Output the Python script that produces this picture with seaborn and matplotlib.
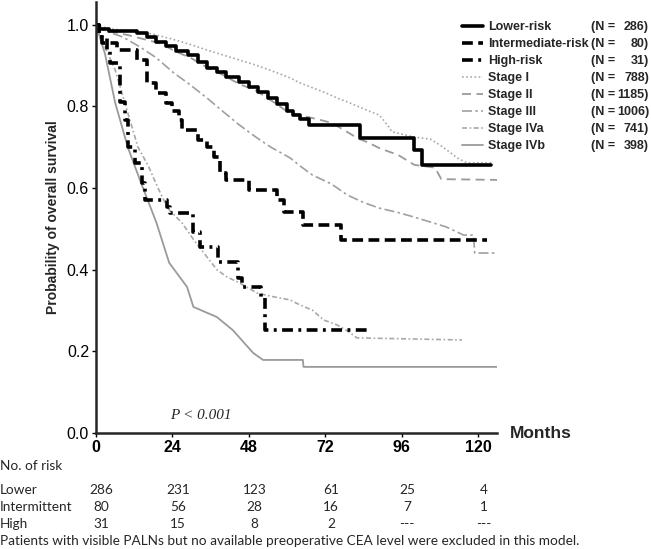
import numpy as np
import pandas as pd
import matplotlib.pyplot as plt
import seaborn as sns

# ---- data (months, survival) ----
lower_t = [0, 1, 4, 13, 16, 19, 22, 25, 29, 32, 35, 38, 41, 45, 48, 51, 54, 57, 60, 62, 64, 67, 83, 100, 102.5, 124]
lower_s = [1.0, 0.99, 0.985, 0.98, 0.97, 0.958, 0.948, 0.937, 0.926, 0.91, 0.895, 0.885, 0.872, 0.86, 0.848,
           0.835, 0.82, 0.805, 0.79, 0.778, 0.77, 0.755, 0.723, 0.694, 0.657, 0.657]

inter_t = [0, 1, 2, 6.6, 13, 16, 19, 22, 24, 26, 27, 32, 35, 37, 39, 41, 48, 57, 59, 65, 77, 123]
inter_s = [1.0, 0.975, 0.956, 0.939, 0.914, 0.858, 0.833, 0.809, 0.79, 0.767, 0.743, 0.718, 0.7, 0.676,
           0.637, 0.62, 0.596, 0.571, 0.542, 0.51, 0.473, 0.473]

high_t = [0, 1, 3.5, 4.5, 7.5, 9, 10, 12.3, 14.5, 15.4, 22.3, 23.3, 30.5, 32.7, 38.4, 44.7, 46, 52, 53, 85]
high_s = [1.0, 0.97, 0.939, 0.907, 0.81, 0.767, 0.70, 0.662, 0.613, 0.571, 0.554, 0.539, 0.493, 0.456,
          0.419, 0.38, 0.358, 0.333, 0.252, 0.252]

st1_t = [0, 2, 5, 10, 15, 19, 24, 30, 35, 40, 45, 50, 55, 61, 64, 68, 72, 76, 79, 83, 86, 89, 90, 92, 93,
         100, 105, 108, 111, 113.5, 116.5, 125]
st1_s = [1.0, 0.995, 0.99, 0.985, 0.982, 0.975, 0.965, 0.951, 0.938, 0.926, 0.914, 0.902, 0.888, 0.87, 0.858,
         0.846, 0.834, 0.82, 0.811, 0.798, 0.788, 0.779, 0.77, 0.75, 0.738, 0.725, 0.72, 0.706, 0.689, 0.674,
         0.662, 0.662]

st2_t = [0, 2, 5, 10, 15, 20, 25, 30, 35, 40, 45, 50, 55, 60, 65, 70, 74, 78, 82, 86, 89, 95, 100, 106.5,
         108.5, 127]
st2_s = [1.0, 0.99, 0.983, 0.975, 0.965, 0.955, 0.935, 0.918, 0.895, 0.877, 0.855, 0.84, 0.815, 0.788, 0.777,
         0.768, 0.76, 0.742, 0.723, 0.71, 0.698, 0.681, 0.657, 0.65, 0.622, 0.62]

st3_t = [0, 3, 8.5, 14, 19, 24, 29.6, 35, 40, 45, 50.6, 55, 61, 64, 68, 74, 79, 84, 89, 95, 100, 105, 110,
         115.5, 118.6, 119, 127]
st3_s = [1.0, 0.985, 0.97, 0.945, 0.919, 0.885, 0.853, 0.82, 0.787, 0.755, 0.723, 0.7, 0.674, 0.655, 0.632,
         0.61, 0.583, 0.565, 0.551, 0.54, 0.529, 0.517, 0.505, 0.485, 0.485, 0.441, 0.441]

st4a_t = [0, 2, 6, 10, 13.2, 16.4, 19.5, 22.6, 27, 31, 35, 38, 41, 45, 50.6, 55, 61, 64, 68, 71.5, 75.7, 79,
          82, 115]
st4a_s = [1.0, 0.96, 0.89, 0.784, 0.70, 0.655, 0.6, 0.55, 0.515, 0.47, 0.43, 0.40, 0.383, 0.368, 0.343,
          0.335, 0.326, 0.314, 0.301, 0.277, 0.265, 0.25, 0.233, 0.228]

st4b_t = [0, 2.8, 6, 10, 13.8, 19, 23, 28.6, 30.6, 38, 43, 49.4, 52.5, 65, 65.2, 126]
st4b_s = [1.0, 0.93, 0.81, 0.70, 0.62, 0.515, 0.417, 0.358, 0.309, 0.284, 0.252, 0.196, 0.179, 0.179,
          0.162, 0.162]

groups = ["Lower-risk", "Intermediate-risk", "High-risk", "Stage I", "Stage II", "Stage III", "Stage IVa", "Stage IVb"]
group_n = [286, 80, 31, 788, 1185, 1006, 741, 398]

risk_months = [0, 24, 48, 72, 96, 120]
risk_rows = ["Lower", "Intermittent", "High"]
risk_lower = ["286", "231", "123", "61", "25", "4"]
risk_inter = ["80", "56", "28", "16", "7", "1"]
risk_high = ["31", "15", "8", "2", "---", "---"]

curves = [(lower_t, lower_s), (inter_t, inter_s), (high_t, high_s), (st1_t, st1_s),
          (st2_t, st2_s), (st3_t, st3_s), (st4a_t, st4a_s), (st4b_t, st4b_s)]
df = pd.concat([pd.DataFrame({"month": t, "surv": s, "group": g})
                for g, (t, s) in zip(groups, curves)], ignore_index=True)

# risk groups: thick black KM steps; stages: thin grey (dense steps -> drawn as lines)
styles = {
    "Lower-risk":        dict(color="black", lw=2.6, ls="-", ds="steps-post"),
    "Intermediate-risk": dict(color="black", lw=2.6, ls=(0, (3, 1.5)), ds="steps-post"),
    "High-risk":         dict(color="black", lw=2.6, ls=(0, (3, 1.5, 0.8, 1.5)), ds="steps-post"),
    "Stage I":           dict(color="#a8a8a8", lw=1.2, ls=(0, (1, 1.5)), ds="default"),
    "Stage II":          dict(color="#9a9a9a", lw=1.3, ls=(0, (5, 3)), ds="default"),
    "Stage III":         dict(color="#a0a0a0", lw=1.2, ls=(0, (6, 2, 1.5, 2)), ds="default"),
    "Stage IVa":         dict(color="#a8a8a8", lw=1.2, ls=(0, (3, 1.5, 1, 1.5)), ds="default"),
    "Stage IVb":         dict(color="#9a9a9a", lw=1.3, ls="-", ds="default"),
}

sns.set_style("ticks")
plt.rcParams['font.family'] = ['Liberation Sans', 'DejaVu Sans']

fig = plt.figure(figsize=(6.51, 5.49), dpi=100)
ax = fig.add_axes([96 / 651, 116 / 549, 401 / 651, 431 / 549])

for g in groups[3:] + groups[:3]:
    st = styles[g]
    sns.lineplot(data=df[df.group == g], x="month", y="surv", ax=ax, estimator=None, sort=False,
                 drawstyle=st["ds"], color=st["color"], linewidth=st["lw"], linestyle=st["ls"],
                 label=g, legend=False)

ax.set_xlim(0, 126)
ax.set_ylim(0, 1.056)
ax.set_xticks(risk_months)
ax.set_xticklabels([str(m) for m in risk_months], fontsize=11.5, fontweight="bold")
ax.set_yticks([0, 0.2, 0.4, 0.6, 0.8, 1.0])
ax.set_yticklabels(["0.0", "0.2", "0.4", "0.6", "0.8", "1.0"], fontsize=11.5)
ax.tick_params(axis="both", length=3, width=1, pad=2, colors="black")
ax.set_xlabel("")
ax.set_ylabel("Probability of overall survival", fontsize=10, fontweight="bold", labelpad=5)
for sp in ["left", "bottom"]:
    ax.spines[sp].set_linewidth(1.8)
sns.despine(ax=ax)

fig.text(510 / 651, 1 - 434 / 549, "Months", fontsize=12.5, fontweight="bold", va="center", ha="left")
ax.text(33, 0.042, "P < 0.001", fontsize=11, fontstyle="italic", family="Liberation Serif",
        ha="center", va="center")

# legend
handles, labels = ax.get_legend_handles_labels()
order = [labels.index(g) for g in groups]
leg = fig.legend([handles[i] for i in order], groups, loc="upper left",
                 bbox_to_anchor=(462 / 651, 1 - 21 / 549), frameon=False,
                 prop=dict(weight="bold", size=9), handlelength=1.7, handletextpad=0.4,
                 labelspacing=0.4, borderpad=0, borderaxespad=0)
fig.canvas.draw()
for txt, n in zip(leg.get_texts(), group_n):
    bb = txt.get_window_extent()
    yc = (bb.y0 + bb.y1) / 2 / fig.dpi / 5.49
    fig.text(591 / 651, yc, "(N =", fontsize=9, fontweight="bold", va="center", ha="left")
    fig.text(649 / 651, yc, f"{n})", fontsize=9, fontweight="bold", va="center", ha="right")

# number at risk table
tfont = dict(family=["Lato", "DejaVu Sans"], fontsize=9.8)
fig.text(0.0, 1 - 466 / 549, "No. of risk", va="center", **tfont)
for row_y, name, vals in zip([490, 507, 524], risk_rows, [risk_lower, risk_inter, risk_high]):
    fig.text(0.0, 1 - row_y / 549, name, va="center", **tfont)
    for m, v in zip(risk_months, vals):
        xf = ax.transData.transform((m + 1.8, 0))[0] / fig.dpi / 6.51
        fig.text(xf, 1 - row_y / 549, v, va="center", ha="center", **tfont)
fig.text(0.0, 1 - 541 / 549,
         "Patients with visible PALNs but no available preoperative CEA level were excluded in this model.",
         va="center", **tfont)

fig.savefig("out.png", dpi=100)
